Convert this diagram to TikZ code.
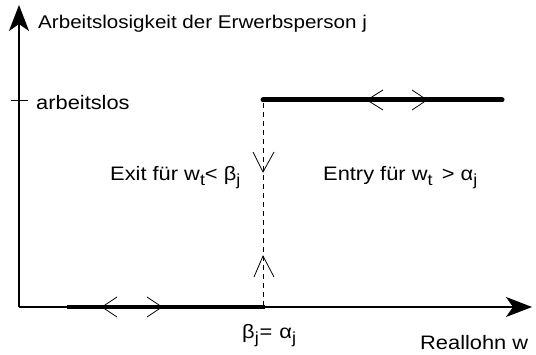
\documentclass[tikz,border=0pt]{standalone}
\usepackage{fontspec}
\setmainfont[FakeStretch=1.12]{Liberation Sans}
\usetikzlibrary{arrows.meta}
\newcommand{\lsub}[1]{\raisebox{-0.45ex}{\fontsize{16}{16}\selectfont #1}}
\begin{document}
\begin{tikzpicture}[x=1pt,y=-1pt,
  axis/.style={line width=2.2pt,-{Stealth[length=26pt,width=20pt,inset=7pt]}},
  thick line/.style={line width=5pt,line cap=round},
  chev/.style={line width=0.8pt},
  lbl/.style={inner sep=0pt,font=\fontsize{19.5}{22}\selectfont}]
\useasboundingbox (0,0) rectangle (536,355);
% coordinates
\coordinate (O) at (19,307);
\coordinate (Ytop) at (19,5);
\coordinate (Xend) at (532,307);
\coordinate (T1) at (11,100);
\coordinate (T2) at (28,100);
\coordinate (U1) at (263,100);
\coordinate (U2) at (502,100);
\coordinate (L1) at (67,307);
\coordinate (L2) at (265,307);
\coordinate (D1) at (263,103);
\coordinate (D2) at (263,305);
% axes
\draw[axis] (O) -- (Ytop);
\draw[axis] (O) -- (Xend);
\draw[line width=0.6pt] (T1) -- (T2);
% thick lines
\draw[thick line] (U1) -- (U2);
\draw[line width=4pt] (L1) -- (L2);
% dashed vertical
\draw[line width=0.8pt,dash pattern=on 5pt off 4pt] (D1) -- (D2);
% chevrons upper line
\draw[chev] (383,90) -- (367,100) -- (383,110);
\draw[chev] (412,90) -- (427,100) -- (412,110);
% chevrons lower line
\draw[chev] (117,297) -- (102,307) -- (117,317);
\draw[chev] (147,297) -- (162,307) -- (147,317);
% vertical chevrons
\draw[chev] (253,152) -- (263,172) -- (274,152);
\draw[chev] (254,277) -- (263,256) -- (274,277);
% labels
\node[lbl,font=\fontsize{18.4}{22}\selectfont,anchor=base west] (ylab) at (38,29) {Arbeitslosigkeit der Erwerbsperson j};
\node[lbl,anchor=base west] (arb) at (36,110) {arbeitslos};
\node[lbl,anchor=base west] (exit) at (110,181) {Exit für w\lsub{t}< β\lsub{j}};
\node[lbl,anchor=base west] (entry) at (323,181) {Entry für w\lsub{t}\, > α\lsub{j}};
\node[lbl,anchor=base west] (ba) at (242,339) {β\lsub{j}\hspace{1pt}=\hspace{7pt}α\lsub{j}};
\node[lbl,anchor=base west] (rl) at (420,350) {Reallohn w};
\end{tikzpicture}
\end{document}
